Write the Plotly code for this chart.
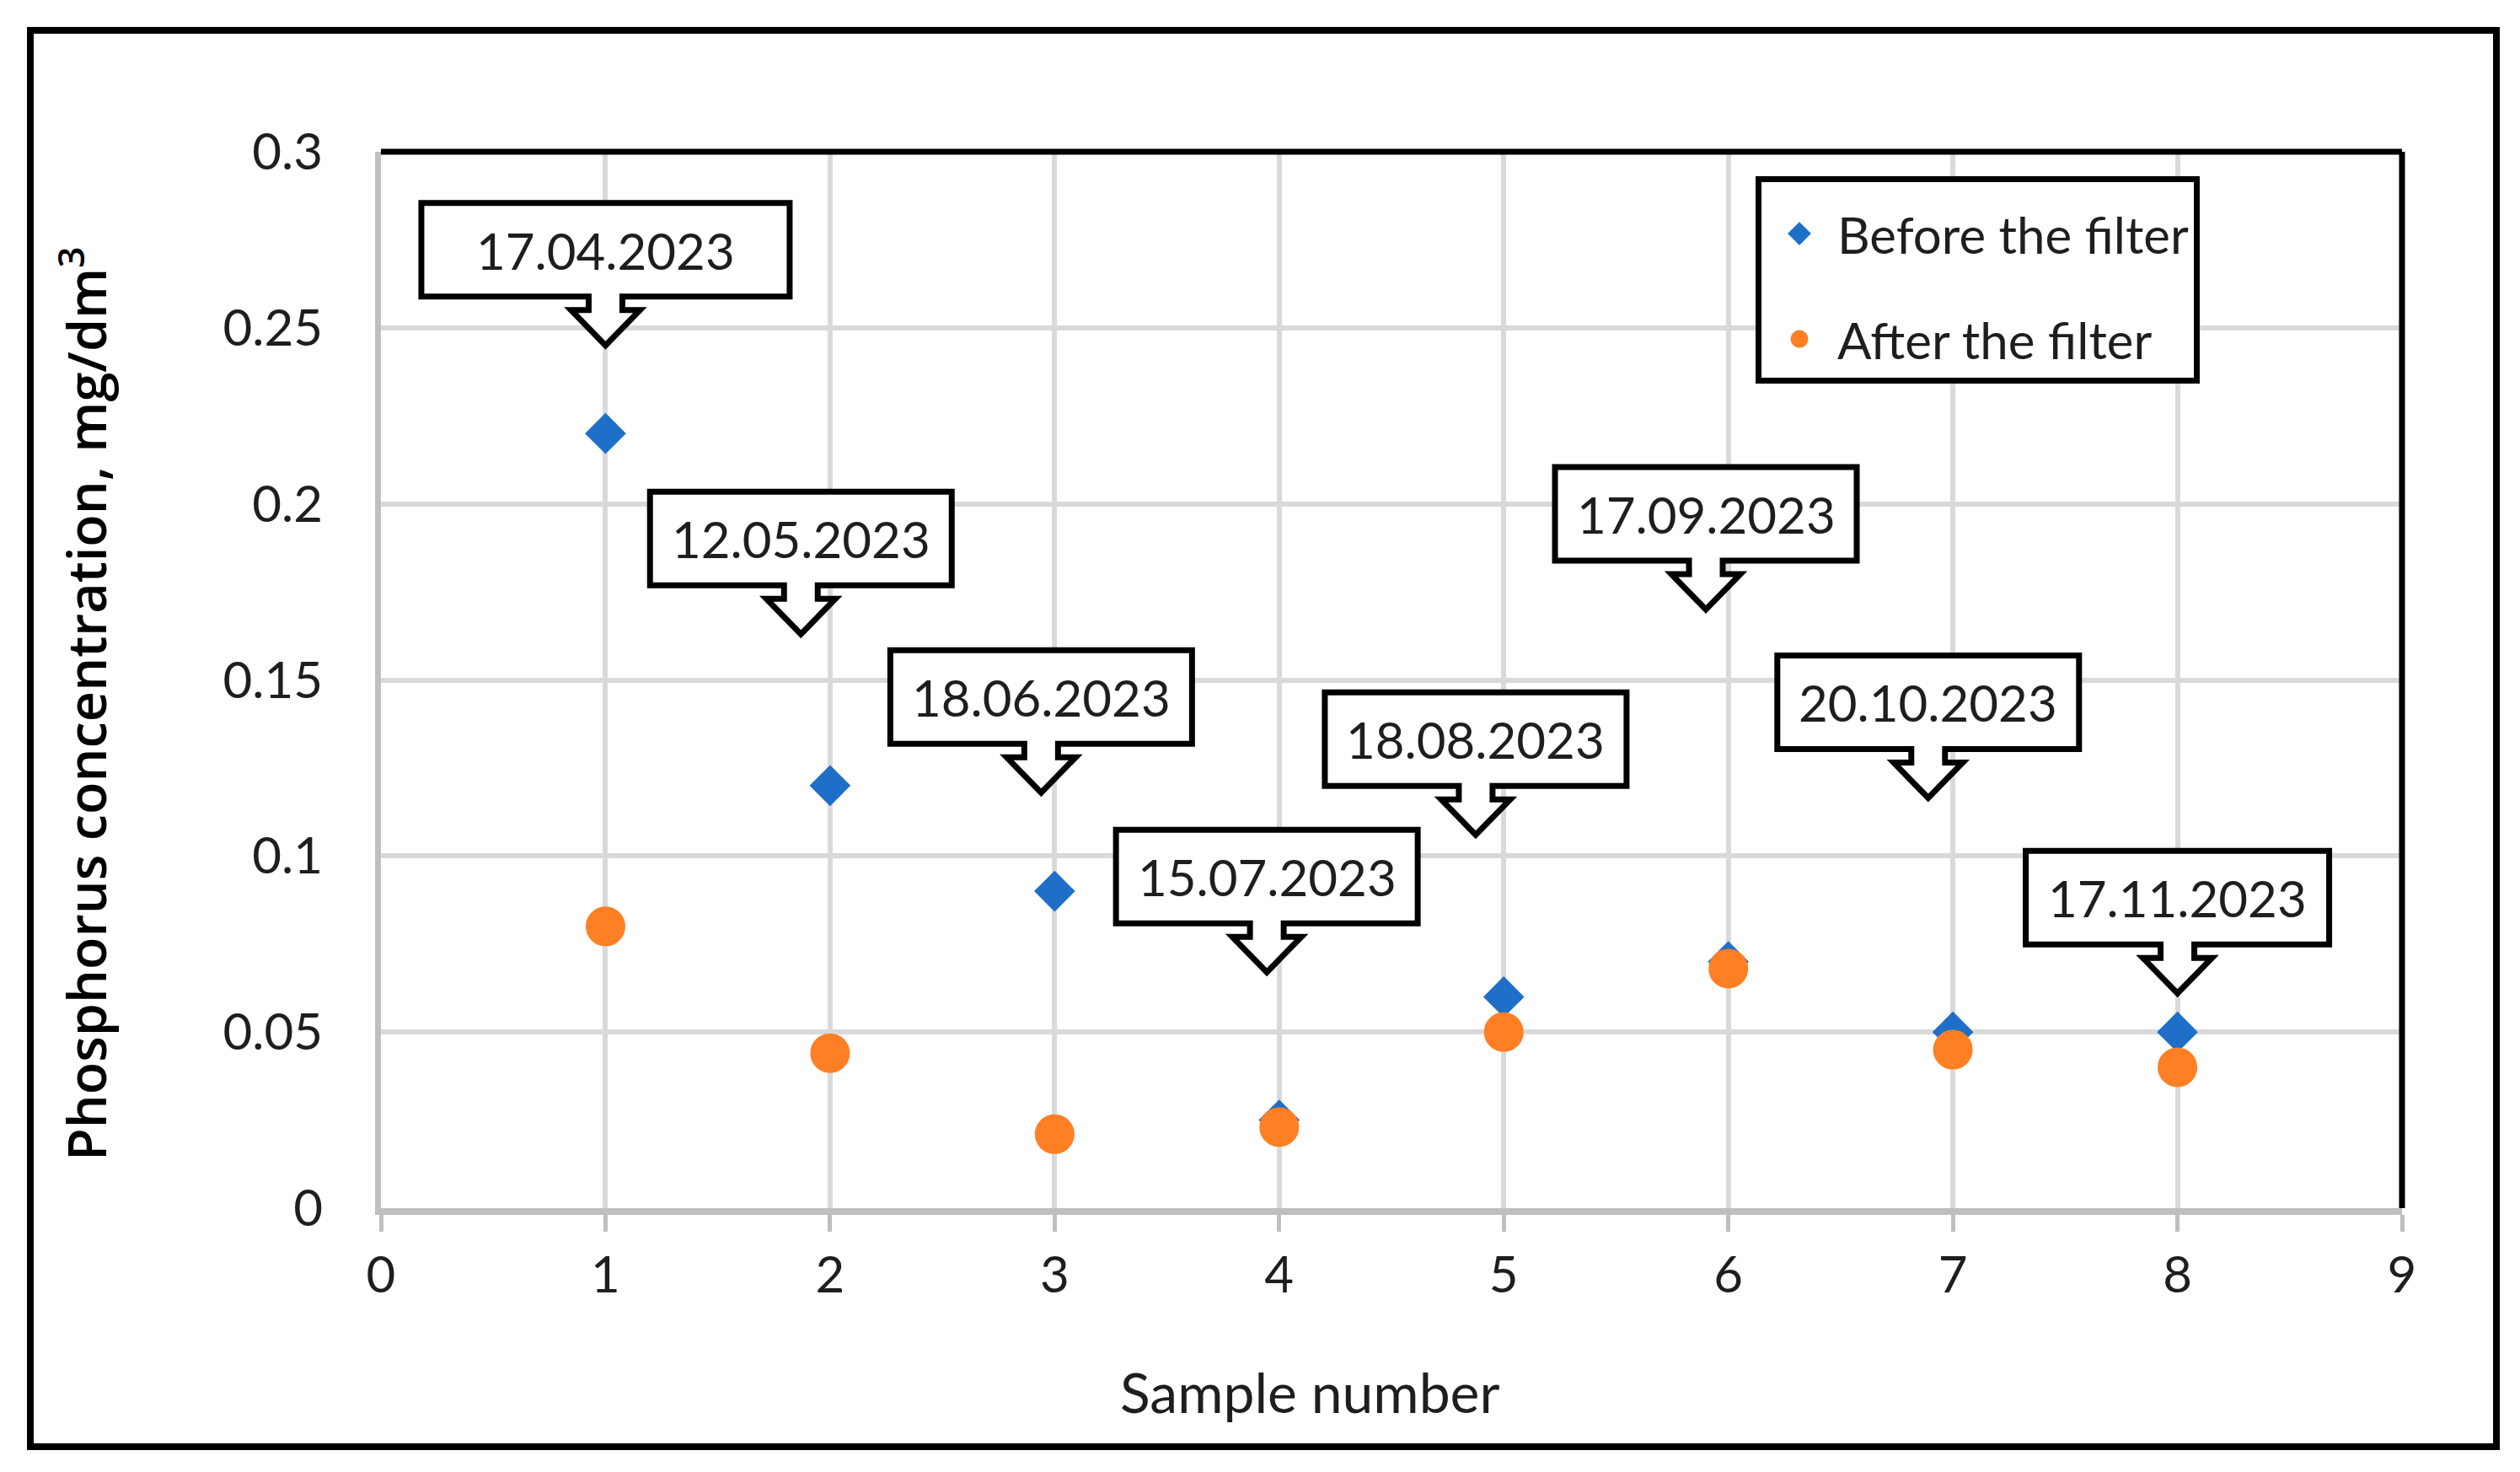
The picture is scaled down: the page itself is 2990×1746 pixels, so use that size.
import plotly.graph_objects as go

# ---------------- data ----------------
sample = [1, 2, 3, 4, 5, 6, 7, 8]
before_filter = [0.22, 0.12, 0.09, 0.025, 0.06, 0.07, 0.05, 0.05]
after_filter = [0.08, 0.044, 0.021, 0.023, 0.05, 0.068, 0.045, 0.04]

date_labels = ["17.04.2023", "12.05.2023", "18.06.2023", "15.07.2023",
               "18.08.2023", "17.09.2023", "20.10.2023", "17.11.2023"]
callout_x = [1.0, 1.87, 2.94, 3.945, 4.875, 5.90, 6.89, 8.0]
callout_y = [0.245, 0.163, 0.118, 0.067, 0.106, 0.170, 0.1165, 0.061]

x_ticks = [0, 1, 2, 3, 4, 5, 6, 7, 8, 9]
y_ticks = [0, 0.05, 0.1, 0.15, 0.2, 0.25, 0.3]

# ---------------- style ----------------
W, H = 2990, 1746
OFF = 8                                   # page body margin
PL, PR, PT, PB = 452 - OFF, 2850 - OFF, 180 - OFF, 1433 - OFF   # plot area in pixels
BLUE = "#1F6FC8"
ORANGE = "#FF7F24"
TXT = "#1e1e1e"
GRID = "#d9d9d9"
AXIS = "#bfbfbf"
FONT = "Lato"
box_widths = [437, 358, 358, 358, 358, 358, 358, 360]


def px2paper_x(px):
    return (px - OFF - PL) / (PR - PL)


def px2paper_y(py):
    return (PB - (py - OFF)) / (PB - PT)


def callout_path(width):
    hw = width / 2
    bot, top = 58, 169
    stem, wing, wy = 20, 41, 42
    pts = [(-hw, bot), (-hw, top), (hw, top), (hw, bot), (stem, bot), (stem, wy),
           (wing, wy), (0, 0), (-wing, wy), (-stem, wy), (-stem, bot)]
    return "M " + " L ".join(f"{x},{y}" for x, y in pts) + " Z"


fig = go.Figure()
fig.add_trace(go.Scatter(
    x=sample, y=before_filter, mode="markers", name="Before the filter",
    legendgroup="a",
    marker=dict(symbol="diamond", size=32, color=BLUE, line=dict(width=5, color=BLUE)),
))
fig.add_trace(go.Scatter(
    x=sample, y=after_filter, mode="markers", name="After the filter",
    legendgroup="b",
    marker=dict(symbol="circle", size=42, color=ORANGE, line=dict(width=5, color=ORANGE)),
))

shapes = []
annotations = []

# callouts
for lab, cx, cy, bw in zip(date_labels, callout_x, callout_y, box_widths):
    shapes.append(dict(
        type="path", xref="x", yref="y", xsizemode="pixel", ysizemode="pixel",
        xanchor=cx, yanchor=cy, path=callout_path(bw),
        line=dict(color="black", width=7), fillcolor="white", layer="above",
    ))
    annotations.append(dict(
        x=cx, y=cy, xref="x", yref="y", text=lab, showarrow=False,
        yshift=113, font=dict(family=FONT, size=60, color=TXT),
    ))

# plot area top/right black border
shapes.append(dict(type="line", xref="paper", yref="paper", x0=0, x1=1, y0=1, y1=1,
                   line=dict(color="black", width=7), layer="above"))
shapes.append(dict(type="line", xref="paper", yref="paper", x0=1, x1=1, y0=0, y1=1,
                   line=dict(color="black", width=7), layer="above"))

# outer frame
shapes.append(dict(type="rect", xref="paper", yref="paper",
                   x0=px2paper_x(36), x1=px2paper_x(2962),
                   y0=px2paper_y(1716), y1=px2paper_y(36),
                   line=dict(color="black", width=8), layer="above"))

# axis titles
annotations.append(dict(
    x=px2paper_x(1554), y=px2paper_y(1650), xref="paper", yref="paper",
    xanchor="center", yanchor="middle",
    text="Sample number", showarrow=False,
    font=dict(family=FONT, size=66, color=TXT),
))
annotations.append(dict(
    x=px2paper_x(98), y=px2paper_y(835), xref="paper", yref="paper",
    xanchor="center", yanchor="middle",
    text="Phosphorus concentration, mg/dm<sup>3</sup>", showarrow=False,
    textangle=-90, font=dict(family="Open Sans", size=63, color="black", weight=600),
))

fig.update_layout(
    width=W, height=H,
    margin=dict(l=PL, r=W - PR, t=PT, b=H - PB),
    paper_bgcolor="white", plot_bgcolor="white",
    showlegend=True,
    legend=dict(
        x=px2paper_x(2083), y=px2paper_y(209), xanchor="left", yanchor="top",
        bordercolor="black", borderwidth=7, bgcolor="white",
        font=dict(family=FONT, size=60, color=TXT),
        # invisible spacer title: widens the legend box to the reference width
        title=dict(text="\u2003" * 45, font=dict(family=FONT, size=12, color="white")),
        tracegroupgap=44, itemwidth=80,
    ),
    shapes=shapes,
    annotations=annotations,
    xaxis=dict(
        range=[0, 9], tickmode="array", tickvals=x_ticks,
        ticktext=[str(v) for v in x_ticks],
        showgrid=True, gridcolor=GRID, gridwidth=6,
        showline=True, linecolor=AXIS, linewidth=8,
        ticks="outside", ticklen=20, tickwidth=5, tickcolor=AXIS,
        tickfont=dict(family=FONT, size=60, color=TXT),
        zeroline=False,
    ),
    yaxis=dict(
        range=[0, 0.3], tickmode="array", tickvals=y_ticks,
        ticktext=[f"{v:g}" for v in y_ticks],
        showgrid=True, gridcolor=GRID, gridwidth=6,
        showline=True, linecolor=AXIS, linewidth=7,
        ticks="", ticklabelstandoff=50,
        tickfont=dict(family=FONT, size=60, color=TXT),
        zeroline=False,
    ),
)

fig.write_html("out.html")
